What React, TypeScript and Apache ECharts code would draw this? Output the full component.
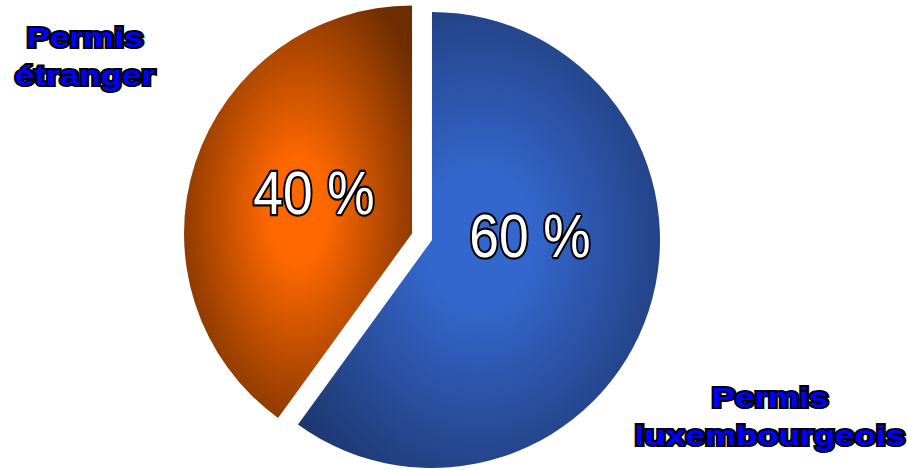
import React, { useEffect, useRef } from "react";
import * as echarts from "echarts";

const categories = ["Permis luxembourgeois", "Permis étranger"];
const shares = [60, 40];
const sliceColors = [
  { inner: "#3467cd", outer: "#1a2e5e" },
  { inner: "#ff6800", outer: "#6e2d00" },
];
const gradientRadius = [0.72, 0.62];
const explode = [false, true];

function outlinedText(
  text: string,
  x: number,
  y: number,
  scaleX: number,
  base: Record<string, any>,
  fill: string,
  outline: number
) {
  return {
    type: "group",
    x,
    y,
    scaleX,
    z: 100,
    silent: true,
    children: [
      {
        type: "text",
        z: 100,
        style: { ...base, text, fill: "#000000", stroke: "#000000", lineWidth: outline },
      },
      {
        type: "text",
        z: 101,
        style: { ...base, text, fill },
      },
    ],
  };
}

export default function App() {
  const ref = useRef<HTMLDivElement>(null);
  useEffect(() => {
    if (!ref.current) return;
    const chart = echarts.init(ref.current, null, { renderer: "svg" });
    const data = categories.map((name, i) => ({
      name,
      value: shares[i],
      selected: explode[i],
      itemStyle: {
        color: {
          type: "radial",
          x: 0.5,
          y: 0.5,
          r: gradientRadius[i],
          colorStops: [
            { offset: 0, color: sliceColors[i].inner },
            { offset: 0.2, color: sliceColors[i].inner },
            { offset: 1, color: sliceColors[i].outer },
          ],
        },
      },
    }));
    const nameText = (s: string) => s.replace(" ", "\n");
    const nameStyle = {
      fontSize: 28,
      fontWeight: "bold",
      fontFamily: '"Liberation Sans", Arial, sans-serif',
      lineHeight: 38,
      align: "center",
      verticalAlign: "middle",
    };
    const pctStyle = {
      fontSize: 62,
      fontFamily: '"Liberation Sans", Arial, sans-serif',
      align: "center",
      verticalAlign: "middle",
    };
    chart.setOption({
      animation: false,
      backgroundColor: "#ffffff",
      series: [
        {
          type: "pie",
          center: [432, 240],
          radius: 228,
          startAngle: 90,
          clockwise: true,
          selectedMode: "single",
          selectedOffset: 21,
          silent: true,
          emphasis: { disabled: true },
          label: { show: false },
          labelLine: { show: false },
          data,
        },
      ],
      graphic: [
        outlinedText(`${shares[1]} %`, 314, 193, 0.86, pctStyle, "#ffffff", 4.5),
        outlinedText(`${shares[0]} %`, 530, 236, 0.86, pctStyle, "#ffffff", 4.5),
        outlinedText(nameText(categories[1]), 85, 56, 1.25, nameStyle, "#0000ff", 4),
        outlinedText(nameText(categories[0]), 770, 416, 1.25, nameStyle, "#0000ff", 4),
      ],
    });
    return () => chart.dispose();
  }, []);
  return (
    <div
      ref={ref}
      style={{ position: "fixed", left: 0, top: 0, width: 907, height: 470 }}
    />
  );
}
